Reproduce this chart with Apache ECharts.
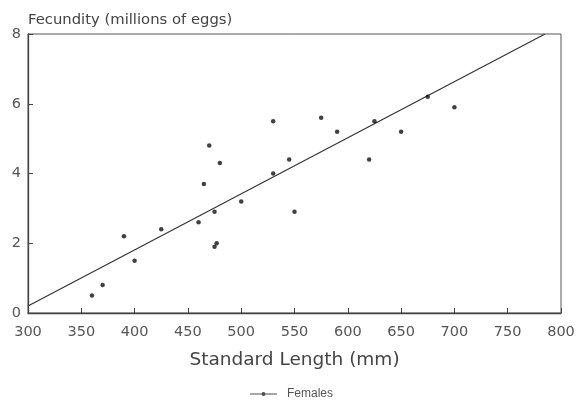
<!DOCTYPE html>
<html>
<head>
<meta charset="utf-8">
<script src="https://cdn.jsdelivr.net/npm/echarts@6/dist/echarts.min.js"></script>
<style>html,body{margin:0;padding:0;background:#fff;}#c{width:580px;height:400px;}</style>
</head>
<body>
<div id="c"></div>
<script>
var lengths = [360, 370, 390, 400, 425, 460, 465, 470, 475, 475, 477, 480, 500, 530, 530, 545, 550, 575, 590, 620, 625, 650, 675, 700];
var fecundity = [0.5, 0.8, 2.2, 1.5, 2.4, 2.6, 3.7, 4.8, 2.9, 1.9, 2.0, 4.3, 3.2, 4.0, 5.5, 4.4, 2.9, 5.6, 5.2, 4.4, 5.5, 5.2, 6.2, 5.9];
var fitX = [300, 785];
var fitY = [0.2, 8.0];
var xTicks = [300, 350, 400, 450, 500, 550, 600, 650, 700, 750, 800];
var yTicks = [0, 2, 4, 6, 8];

var pts = lengths.map(function (x, i) { return [x, fecundity[i]]; });
var fit = fitX.map(function (x, i) { return [x, fitY[i]]; });
var FONT = 'DejaVu Sans';
var chart = echarts.init(document.getElementById('c'));
chart.setOption({
  animation: false,
  backgroundColor: '#fff',
  title: {
    text: 'Fecundity (millions of eggs)', left: 23, top: 8,
    textStyle: { fontFamily: FONT, fontSize: 14.8, fontWeight: 'normal', color: '#444' }
  },
  legend: {
    left: 245, top: 383, itemWidth: 27, itemHeight: 8, itemGap: 8,
    icon: 'path://M0,3.5H27V4.5H0Z M13.5,2A2,2,0,1,1,13.5,6A2,2,0,1,1,13.5,2Z',
    textStyle: { fontFamily: 'Liberation Sans', fontSize: 12, color: '#555', padding: [0, 0, 0, 5] },
    data: [{ name: 'Females', itemStyle: { color: '#222' } }]
  },
  grid: { left: 28, right: 19, top: 34, bottom: 87, show: true, borderColor: '#555', borderWidth: 1 },
  xAxis: {
    type: 'value', min: 300, max: 800, interval: 50,
    name: 'Standard Length (mm)', nameLocation: 'middle', nameGap: 38,
    nameTextStyle: { fontFamily: FONT, fontSize: 18.5, color: '#444' },
    axisLine: { lineStyle: { color: '#444', width: 1.3 } },
    axisTick: { inside: true, length: 5, lineStyle: { color: '#444' } },
    axisLabel: { fontFamily: FONT, fontSize: 14.5, color: '#555', margin: 12,
      formatter: function (v) { return xTicks.indexOf(v) >= 0 ? String(v) : ''; } },
    splitLine: { show: false }
  },
  yAxis: {
    type: 'value', min: 0, max: 8, interval: 2,
    axisLine: { show: true, lineStyle: { color: '#444', width: 1.3 } },
    axisTick: { show: true, inside: true, length: 5, lineStyle: { color: '#444' } },
    axisLabel: { fontFamily: FONT, fontSize: 14.5, color: '#555', margin: 7,
      formatter: function (v) { return yTicks.indexOf(v) >= 0 ? String(v) : ''; } },
    splitLine: { show: false }
  },
  series: [
    { name: 'Females', type: 'scatter', data: pts, symbol: 'circle', symbolSize: 4.5,
      itemStyle: { color: '#111' }, z: 3 },
    { name: 'fit', type: 'line', data: fit, showSymbol: false, symbol: 'none',
      lineStyle: { color: '#333', width: 1.2 }, z: 2 }
  ]
});
</script>
</body>
</html>
